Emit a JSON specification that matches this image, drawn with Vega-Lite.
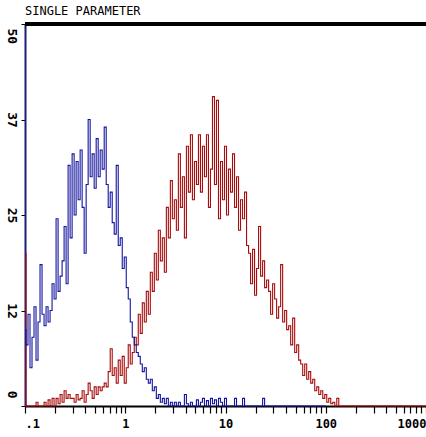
{
"$schema": "https://vega.github.io/schema/vega-lite/v6.json",
"width": 401, "height": 382,
"autosize": "none",
"padding": {"left": 25, "top": 24, "right": 0, "bottom": 31},
"background": "white",
"config": {"view": {"stroke": null}, "font": "DejaVu Sans Mono"},
"title": {"text": "SINGLE PARAMETER", "anchor": "start", "frame": "group", "fontSize": 12, "fontWeight": "normal", "font": "DejaVu Sans Mono", "color": "black", "offset": 5},
"data": {"values": [
{"x":0.1,"b":10,"r":20},{"x":0.1047,"b":8,"r":0},{"x":0.1096,"b":12,"r":0},{"x":0.1148,"b":5,"r":0},{"x":0.1202,"b":9,"r":0},
{"x":0.1259,"b":13,"r":0},{"x":0.1318,"b":6,"r":0.5},{"x":0.138,"b":11,"r":0},{"x":0.1445,"b":18.5,"r":0},{"x":0.1514,"b":12,"r":0},
{"x":0.1585,"b":10.5,"r":0.5},{"x":0.166,"b":13,"r":0},{"x":0.1738,"b":11,"r":0.8},{"x":0.182,"b":12.5,"r":0},{"x":0.1905,"b":16,"r":1},
{"x":0.1995,"b":14,"r":0},{"x":0.2089,"b":24.5,"r":1},{"x":0.2188,"b":15,"r":0.3},{"x":0.2291,"b":17,"r":1.5},{"x":0.2399,"b":19,"r":0.5},
{"x":0.2512,"b":23.5,"r":2},{"x":0.263,"b":16,"r":1},{"x":0.2754,"b":31.5,"r":1.5},{"x":0.2884,"b":22,"r":1},{"x":0.302,"b":33,"r":1},
{"x":0.3162,"b":25,"r":0.5},{"x":0.3311,"b":32,"r":1.5},{"x":0.3467,"b":27,"r":0.8},{"x":0.3631,"b":33.5,"r":1},{"x":0.3802,"b":26,"r":2},
{"x":0.3981,"b":20,"r":0.5},{"x":0.4169,"b":29,"r":1.5},{"x":0.4365,"b":37.5,"r":3},{"x":0.4571,"b":30,"r":2},{"x":0.4786,"b":33,"r":1},
{"x":0.5012,"b":28.5,"r":2.5},{"x":0.5248,"b":35,"r":1.5},{"x":0.5495,"b":30,"r":2.5},{"x":0.5754,"b":33.5,"r":2},{"x":0.6026,"b":31,"r":2.5},
{"x":0.631,"b":36.5,"r":3},{"x":0.6607,"b":29,"r":2.5},{"x":0.6918,"b":26,"r":4.5},{"x":0.7244,"b":28,"r":7.5},{"x":0.7586,"b":24,"r":4},
{"x":0.7943,"b":22.5,"r":5},{"x":0.8318,"b":31.5,"r":3},{"x":0.871,"b":21,"r":6},{"x":0.912,"b":22,"r":4},{"x":0.955,"b":18,"r":6.5},
{"x":1,"b":19.5,"r":3},{"x":1.047,"b":15.5,"r":5},{"x":1.096,"b":14,"r":8},{"x":1.148,"b":11,"r":5.5},{"x":1.202,"b":9,"r":7},
{"x":1.259,"b":8,"r":9},{"x":1.318,"b":7,"r":8},{"x":1.38,"b":6.5,"r":12},{"x":1.445,"b":5.5,"r":9.5},{"x":1.514,"b":4.5,"r":13.5},
{"x":1.585,"b":5,"r":11},{"x":1.66,"b":3.5,"r":15},{"x":1.738,"b":3,"r":12},{"x":1.82,"b":3.5,"r":17.5},{"x":1.905,"b":2,"r":15},
{"x":1.995,"b":2.5,"r":20},{"x":2.089,"b":1,"r":16.5},{"x":2.188,"b":1.5,"r":23},{"x":2.291,"b":0.5,"r":19},{"x":2.399,"b":1,"r":22},
{"x":2.512,"b":0.3,"r":17.5},{"x":2.63,"b":1,"r":26},{"x":2.754,"b":0,"r":22},{"x":2.884,"b":0.5,"r":29.5},{"x":3.02,"b":0,"r":24.5},
{"x":3.162,"b":0.5,"r":27},{"x":3.311,"b":0,"r":23},{"x":3.467,"b":0.5,"r":33},{"x":3.631,"b":0,"r":26},{"x":3.802,"b":0,"r":30},
{"x":3.981,"b":1.5,"r":22},{"x":4.169,"b":0.3,"r":34},{"x":4.365,"b":0,"r":28},{"x":4.571,"b":0.5,"r":35.5},{"x":4.786,"b":0,"r":27},
{"x":5.012,"b":0,"r":32},{"x":5.248,"b":0.8,"r":29},{"x":5.495,"b":0,"r":35.5},{"x":5.754,"b":0.5,"r":28},{"x":6.026,"b":1,"r":34},
{"x":6.31,"b":0,"r":30},{"x":6.607,"b":0.7,"r":35.5},{"x":6.918,"b":0,"r":26},{"x":7.244,"b":1,"r":31},{"x":7.586,"b":0.3,"r":40.5},
{"x":7.943,"b":0.8,"r":29},{"x":8.318,"b":0,"r":40},{"x":8.71,"b":1,"r":24.5},{"x":9.12,"b":0.5,"r":32},{"x":9.55,"b":0,"r":27},
{"x":10,"b":1,"r":34},{"x":10.47,"b":0,"r":25},{"x":10.96,"b":0,"r":31},{"x":11.48,"b":0,"r":28},{"x":12.02,"b":0,"r":33},
{"x":12.59,"b":1,"r":26},{"x":13.18,"b":0,"r":30},{"x":13.8,"b":0,"r":23},{"x":14.45,"b":0,"r":27},{"x":15.14,"b":1,"r":24.5},
{"x":15.85,"b":0,"r":28},{"x":16.6,"b":0,"r":21},{"x":17.38,"b":0,"r":20},{"x":18.2,"b":0,"r":16},{"x":19.05,"b":0,"r":20.5},
{"x":19.95,"b":0,"r":14.5},{"x":20.89,"b":0,"r":18},{"x":21.88,"b":0,"r":23.5},{"x":22.91,"b":0,"r":17},{"x":23.99,"b":1,"r":19},
{"x":25.12,"b":0,"r":15.5},{"x":26.3,"b":0,"r":16.5},{"x":27.54,"b":0,"r":15},{"x":28.84,"b":0,"r":12},{"x":30.2,"b":0,"r":16},
{"x":31.62,"b":0,"r":14},{"x":33.11,"b":0,"r":11.5},{"x":34.67,"b":0,"r":13},{"x":36.31,"b":0,"r":18.5},{"x":38.02,"b":0,"r":11},
{"x":39.81,"b":0,"r":12.5},{"x":41.69,"b":0,"r":10},{"x":43.65,"b":0,"r":10.5},{"x":45.71,"b":0,"r":8},{"x":47.86,"b":0,"r":11.5},
{"x":50.12,"b":0,"r":7},{"x":52.48,"b":0,"r":8},{"x":54.95,"b":0,"r":6},{"x":57.54,"b":0,"r":5.5},{"x":60.26,"b":0,"r":4},
{"x":63.1,"b":0,"r":5.5},{"x":66.07,"b":0,"r":3.5},{"x":69.18,"b":0,"r":4.5},{"x":72.44,"b":0,"r":3},{"x":75.86,"b":0,"r":3.5},
{"x":79.43,"b":0,"r":2},{"x":83.18,"b":0,"r":2.5},{"x":87.1,"b":0,"r":1.5},{"x":91.2,"b":0,"r":2},{"x":95.5,"b":0,"r":1},
{"x":100,"b":0,"r":1.5},{"x":104.7,"r":0.5},{"x":109.6,"r":1},{"x":114.8,"r":0.3},{"x":120.2,"r":0.5},
{"x":125.9,"r":0},{"x":131.8,"r":1},{"x":138,"r":0},{"x":1000,"r":0}
]},
"layer": [
{"mark": {"type": "rule", "color": "black", "strokeWidth": 2.5},
 "encoding": {"y": {"datum": 50, "type": "quantitative"}}},
{"mark": {"type": "line", "interpolate": "step", "color": "#a80c0c", "strokeWidth": 1.1},
 "encoding": {
  "x": {"field": "x", "type": "quantitative",
   "scale": {"type": "log", "domain": [0.1, 1000]},
   "axis": {"title": null, "grid": false,
    "values": [0.1,0.2,0.3,0.4,0.5,0.6,0.7,0.8,0.9,1,2,3,4,5,6,7,8,9,10,20,30,40,50,60,70,80,90,100,200,300,400,500,600,700,800,900,1000],
    "labelExpr": "datum.value == 0.1 ? '.1' : (datum.value == 1 || datum.value == 10 || datum.value == 100 || datum.value == 1000) ? format(datum.value, 'd') : ''",
    "labelOverlap": false, "labelFlush": true,
    "tickSize": 7, "tickColor": "black", "tickWidth": 1.2,
    "domainColor": "black", "domainWidth": 2,
    "labelFont": "DejaVu Sans Mono", "labelFontSize": 12, "labelFontWeight": "bold", "labelColor": "black", "labelPadding": 5}},
  "y": {"field": "r", "type": "quantitative",
   "scale": {"domain": [0, 50]},
   "axis": {"title": null, "grid": false,
    "values": [0, 12.5, 25, 37.5, 50],
    "labelExpr": "format(floor(datum.value), 'd')",
    "labelAngle": 90, "labelFlush": false,
    "labelAlign": {"condition": [{"test": "datum.value == 50", "value": "left"}, {"test": "datum.value == 0", "value": "right"}], "value": "center"},
    "labelOffset": {"condition": [{"test": "datum.value == 50", "value": 4}, {"test": "datum.value == 0", "value": -8}], "value": 0},
    "tickSize": 4, "tickColor": "black",
    "domainColor": "#1c1c78", "domainWidth": 2,
    "labelFont": "DejaVu Sans Mono", "labelFontSize": 13, "labelFontWeight": "bold", "labelColor": "black", "labelPadding": 4}}
 }},
{"mark": {"type": "line", "interpolate": "step", "color": "#1414a0", "strokeWidth": 1.1},
 "encoding": {
  "x": {"field": "x", "type": "quantitative"},
  "y": {"field": "b", "type": "quantitative", "axis": {"title": null}}
 }}
]
}
